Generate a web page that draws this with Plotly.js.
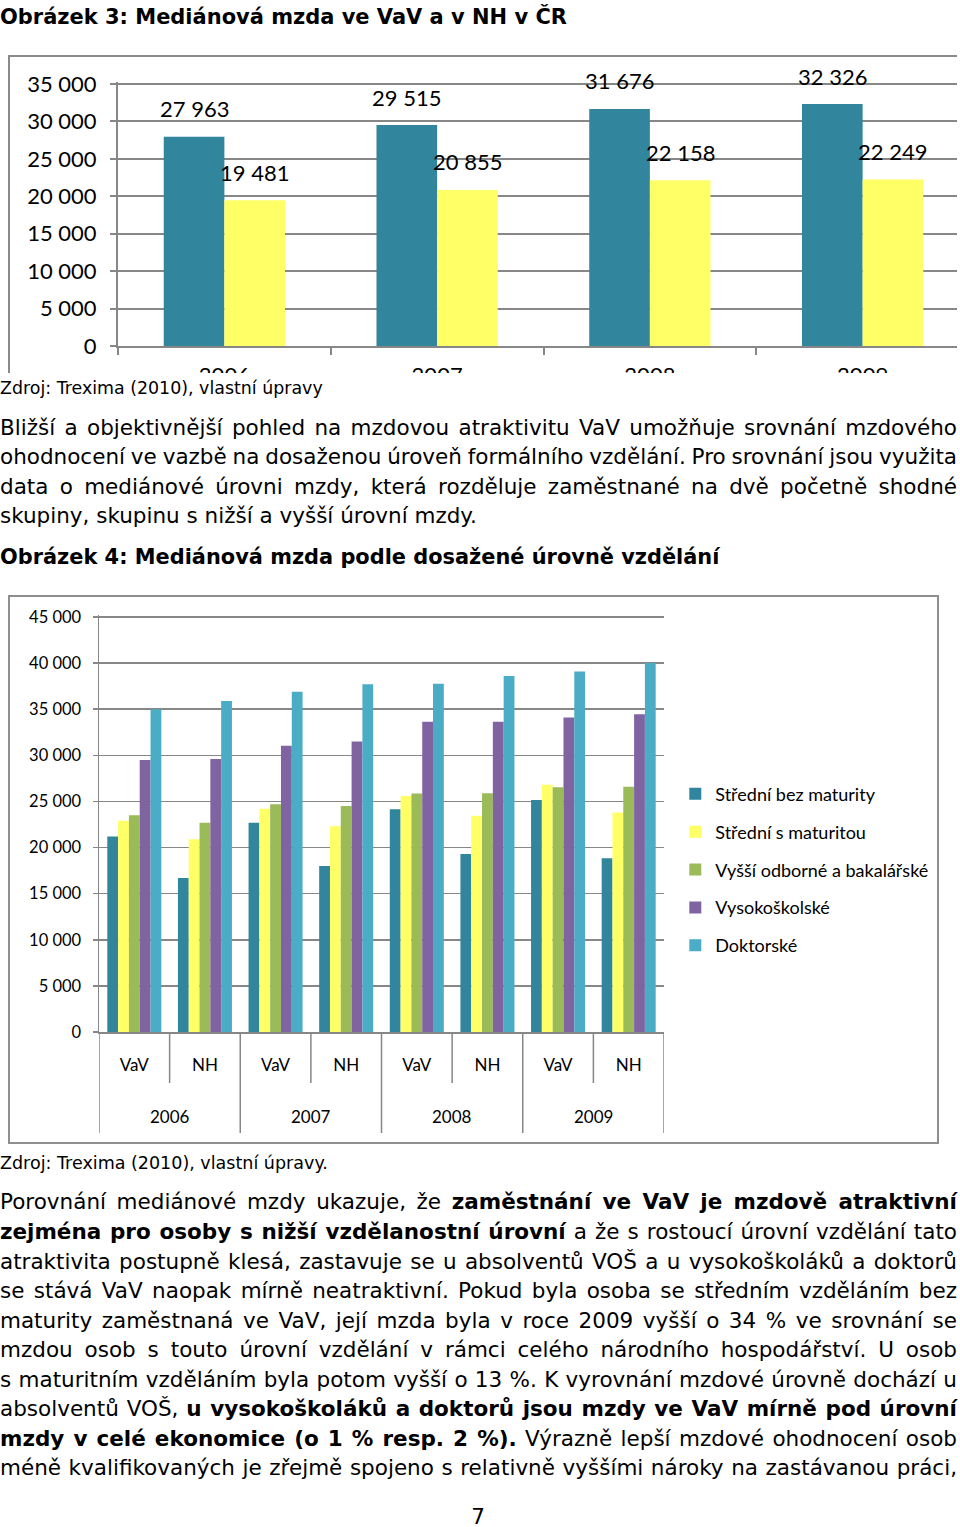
<!DOCTYPE html>
<html><head><meta charset="utf-8">
<script src="https://cdn.plot.ly/plotly-3.0.1.min.js"></script>
<style>
html,body{margin:0;padding:0;background:#fff}
body{width:960px;height:1527px;position:relative;overflow:hidden;font-family:"DejaVu Sans",Verdana,sans-serif;color:#000}
.ln{position:absolute;left:0;white-space:nowrap;line-height:30px;height:30px}
#c1wrap{position:absolute;left:0;top:0;width:957px;height:373px;overflow:hidden}
#c1frame{position:absolute;left:8px;top:55px;width:1100px;height:500px;border:2px solid #8a8a8a;box-sizing:border-box}
#c1{position:absolute;left:0;top:0}
#c2frame{position:absolute;left:8px;top:595px;width:931px;height:549px;border:2px solid #8f8f8f;box-sizing:border-box}
#c2{position:absolute;left:0;top:595px}
</style></head><body>
<div id="c1wrap"><div id="c1frame"></div><div id="c1"></div></div>
<div id="c2frame"></div><div id="c2"></div>
<script>
// ---------- Data: Obrázek 3 ----------
const years1 = ['2006', '2007', '2008', '2009'];
const vavMedian = [27963, 29515, 31676, 32326];
const nhMedian = [19481, 20855, 22158, 22249];

// ---------- Data: Obrázek 4 ----------
const yearLevel = ['2006', '2006', '2007', '2007', '2008', '2008', '2009', '2009'];
const sectorLevel = ['VaV', 'NH', 'VaV', 'NH', 'VaV', 'NH', 'VaV', 'NH'];
const seriesNames = ['Střední bez maturity', 'Střední s maturitou', 'Vyšší odborné a bakalářské', 'Vysokoškolské', 'Doktorské'];
const stredniBez = [21200, 16700, 22700, 18000, 24150, 19300, 25150, 18850];
const stredniMat = [22900, 20900, 24200, 22300, 25600, 23450, 26800, 23800];
const vyssiBak = [23500, 22700, 24700, 24500, 25850, 25900, 26550, 26600];
const vysokoskolske = [29500, 29600, 31050, 31500, 33650, 33650, 34100, 34450];
const doktorske = [35000, 35900, 36900, 37700, 37750, 38600, 39100, 40000];

const GRID = '#878787';
const CF = 'Lato, "Open Sans", sans-serif';
function fmt(v){ return String(v).replace(/\B(?=(\d{3})+(?!\d))/g, ' '); }

// ---------- Chart 1 ----------
(function(){
  const W = 1000, H = 430, ml = 118, mr = 31, mt = 82, mb = 84;
  const plotH = H - mt - mb;            // 264 px; 35 000 sits 2 px below the top edge
  const yTop = 35000 * plotH / (plotH - 2);
  const bargap = 0.43;
  const catW = (W - ml - mr) / years1.length;
  const bw = catW * (1 - bargap) / 2;
  const traces = [
    {type:'bar', x: years1, y: vavMedian, name:'VaV', marker:{color:'#31859C'}, hoverinfo:'skip'},
    {type:'bar', x: years1, y: nhMedian, name:'NH', marker:{color:'#FFFF66'}, hoverinfo:'skip'}
  ];
  const anns = [];
  years1.forEach((yr, i) => {
    anns.push({x: i, y: vavMedian[i], xref:'x', yref:'y', text: fmt(vavMedian[i]), showarrow:false, xshift: -bw/2, yshift: 28, font:{family:CF, size:22, color:'#000'}});
    anns.push({x: i, y: nhMedian[i], xref:'x', yref:'y', text: fmt(nhMedian[i]), showarrow:false, xshift: bw/2, yshift: 28, font:{family:CF, size:22, color:'#000'}});
  });
  const layout = {
    width: W, height: H, margin:{l:ml, r:mr, t:mt, b:mb, pad:0},
    paper_bgcolor:'rgba(0,0,0,0)', plot_bgcolor:'rgba(0,0,0,0)',
    barmode:'group', bargap: bargap, bargroupgap: 0, showlegend:false,
    separators: ', ',
    xaxis:{type:'category', range:[-0.5, years1.length - 0.5], showline:true, linecolor:GRID, linewidth:2, ticks:'outside', tickson:'boundaries', ticklen:7, tickcolor:GRID, tickwidth:2, showgrid:false, tickfont:{family:CF, size:22, color:'#000'}, ticklabelstandoff:9},
    yaxis:{range:[0, yTop], tick0:0, dtick:5000, exponentformat:'none', separatethousands:true, showline:true, linecolor:GRID, linewidth:2, ticks:'outside', ticklen:6, tickcolor:GRID, tickwidth:2, gridcolor:GRID, gridwidth:2, zeroline:false, tickfont:{family:CF, size:22, color:'#000'}, ticklabelstandoff:9},
    annotations: anns
  };
  Plotly.newPlot('c1', traces, layout, {staticPlot:true, displayModeBar:false});
})();

// ---------- Chart 2 ----------
(function(){
  const colors = ['#31859C', '#FFFF66', '#9BBB59', '#8064A2', '#4BACC6'];
  const vals = [stredniBez, stredniMat, vyssiBak, vysokoskolske, doktorske];
  const keys = yearLevel.map((y, i) => y + ' ' + sectorLevel[i]);
  const years2 = [...new Set(yearLevel)];
  const traces = vals.map((v, i) => ({
    type:'bar', x:keys, y:v, name:seriesNames[i],
    marker:{color:colors[i]}, legendgroup:'g'+i, hoverinfo:'skip'
  }));
  const H = 549, mt = 20, mb = 112;
  const plotH = H - mt - mb;            // 417 px; 45 000 sits 2 px below top edge
  const yTop = 45000 * plotH / (plotH - 2);
  // category separators below the axis (short between VaV/NH, long between years)
  const shapes = [];
  for (let b = 0; b <= keys.length; b++) {
    const isYear = (b === 0 || b === keys.length || yearLevel[b] !== yearLevel[b - 1]);
    shapes.push({type:'line', xref:'x', yref:'paper', x0:b - 0.5, x1:b - 0.5, y0:0, y1:-(isYear ? 101 : 51) / plotH, line:{color:GRID, width:1.5}});
  }
  const anns = years2.map(y => {
    const idx = yearLevel.map((v, i) => v === y ? i : -1).filter(i => i >= 0);
    const mid = (idx[0] + idx[idx.length - 1]) / 2;
    return {x: mid, xref:'x', y: -84 / plotH, yref:'paper', yanchor:'middle', text: y, showarrow:false, font:{family:CF, size:17, color:'#000'}};
  });
  const layout = {
    width:960, height:H, margin:{l:99, r:296, t:mt, b:mb, pad:0},
    paper_bgcolor:'rgba(0,0,0,0)', plot_bgcolor:'rgba(0,0,0,0)',
    barmode:'group', bargap:0.235, bargroupgap:0,
    separators: ', ',
    xaxis:{type:'category', range:[-0.5, keys.length - 0.5], tickvals:keys, ticktext:sectorLevel, showline:true, linecolor:GRID, linewidth:1.5, ticks:'', showgrid:false, tickfont:{family:CF, size:17, color:'#000'}, ticklabelstandoff:17},
    yaxis:{range:[0, yTop], tick0:0, dtick:5000, exponentformat:'none', separatethousands:true, showline:true, linecolor:GRID, linewidth:1.5, ticks:'outside', ticklen:5, tickcolor:GRID, tickwidth:1.5, gridcolor:GRID, gridwidth:1.5, zeroline:false, tickfont:{family:CF, size:16.5, color:'#000'}, ticklabelstandoff:8},
    legend:{x:1.02, xanchor:'left', y:0.615, yanchor:'top', traceorder:'grouped', tracegroupgap:11.5, font:{family:CF, size:18, color:'#000'}, bgcolor:'rgba(0,0,0,0)'},
    shapes: shapes,
    annotations: anns
  };
  Plotly.newPlot('c2', traces, layout, {staticPlot:true, displayModeBar:false});
})();

// ---------- Text ----------
const FS0 = 20;
function mk(html, cy, fs){
  const d = document.createElement('div');
  d.className = 'ln';
  d.innerHTML = html;
  d.style.fontSize = fs + 'px';
  d.style.top = (cy - 15) + 'px';
  document.body.appendChild(d);
  return d;
}
function fit(d, target){
  const w = d.getBoundingClientRect().width;
  const fs = parseFloat(d.style.fontSize) * target / w;
  d.style.fontSize = fs + 'px';
  return fs;
}
function justify(d, target){
  d.style.wordSpacing = '0px';
  const w = d.getBoundingClientRect().width;
  const n = (d.textContent.match(/ /g) || []).length;
  if (n > 0) d.style.wordSpacing = ((target - w) / n) + 'px';
}

const h3 = mk('<b>Obrázek 3: Mediánová mzda ve VaV a v NH v ČR</b>', 17, FS0); fit(h3, 567);
const h4 = mk('<b>Obrázek 4: Mediánová mzda podle dosažené úrovně vzdělání</b>', 557, FS0); fit(h4, 720);
const z1 = mk('Zdroj: Trexima (2010), vlastní úpravy', 388, 16); fit(z1, 323);
const z2 = mk('Zdroj: Trexima (2010), vlastní úpravy.', 1163, 16); fit(z2, 328);

const para1 = [
  'Bližší a objektivnější pohled na mzdovou atraktivitu VaV umožňuje srovnání mzdového',
  'ohodnocení ve vazbě na dosaženou úroveň formálního vzdělání. Pro srovnání jsou využita',
  'data o mediánové úrovni mzdy, která rozděluje zaměstnané na dvě početně shodné',
  'skupiny, skupinu s nižší a vyšší úrovní mzdy.'
];
const para1Y = [428, 457, 487, 516];
const last1 = mk(para1[3], para1Y[3], FS0);
const BFS = fit(last1, 477);
for (let i = 0; i < 3; i++){ const d = mk(para1[i], para1Y[i], BFS); justify(d, 957); }

const para2 = [
  'Porovnání mediánové mzdy ukazuje, že <b>zaměstnání ve VaV je mzdově atraktivní</b>',
  '<b>zejména pro osoby s nižší vzdělanostní úrovní</b> a že s rostoucí úrovní vzdělání tato',
  'atraktivita postupně klesá, zastavuje se u absolventů VOŠ a u vysokoškoláků a doktorů',
  'se stává VaV naopak mírně neatraktivní. Pokud byla osoba se středním vzděláním bez',
  'maturity zaměstnaná ve VaV, její mzda byla v roce 2009 vyšší o 34 % ve srovnání se',
  'mzdou osob s touto úrovní vzdělání v rámci celého národního hospodářství. U osob',
  's maturitním vzděláním byla potom vyšší o 13 %. K vyrovnání mzdové úrovně dochází u',
  'absolventů VOŠ, <b>u vysokoškoláků a doktorů jsou mzdy ve VaV mírně pod úrovní</b>',
  '<b>mzdy v celé ekonomice (o 1 % resp. 2 %).</b> Výrazně lepší mzdové ohodnocení osob',
  'méně kvalifikovaných je zřejmě spojeno s relativně vyššími nároky na zastávanou práci,'
];
const para2Y = [1202, 1232, 1262, 1291, 1321, 1350, 1380, 1409, 1439, 1468];
para2.forEach((t, i) => { const d = mk(t, para2Y[i], BFS); justify(d, 957); });

const pn = mk('7', 1517, BFS);
pn.style.left = (478 - pn.getBoundingClientRect().width / 2) + 'px';
</script>
</body></html>
